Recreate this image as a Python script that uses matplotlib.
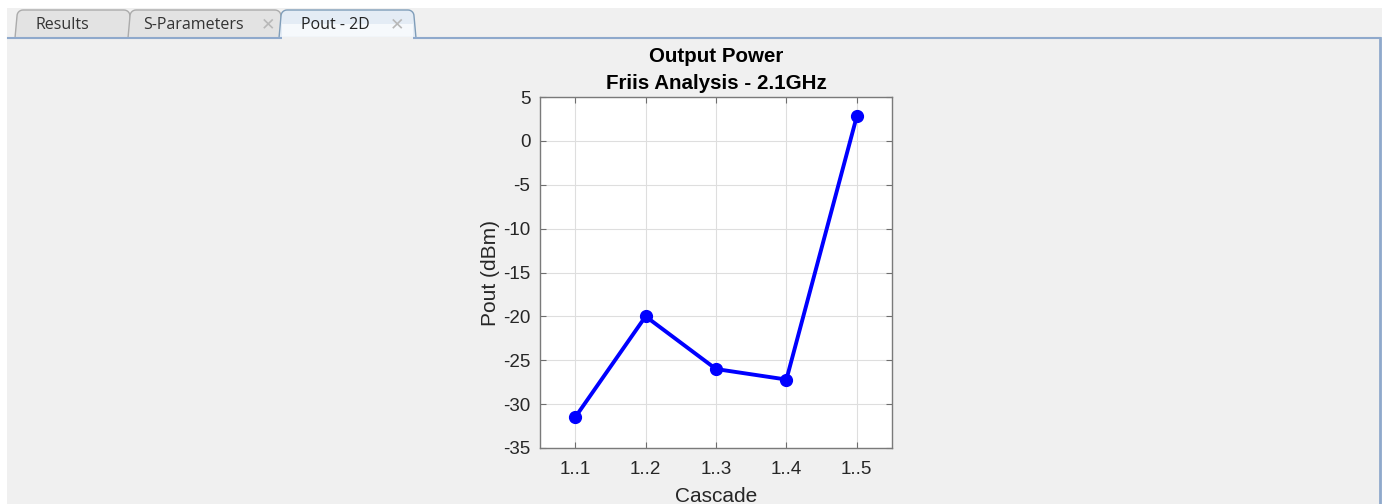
import numpy as np
import matplotlib
matplotlib.use("Agg")
import matplotlib.pyplot as plt
from matplotlib.patches import Polygon, Rectangle

plt.rcParams["axes.unicode_minus"] = False

# cascade stages and output power (dBm)
stages = [1, 2, 3, 4, 5]
stage_labels = ["1..1", "1..2", "1..3", "1..4", "1..5"]
pout_dbm = [-31.5, -20.0, -26.0, -27.2, 2.8]

tab_names = ["Results", "S-Parameters", "Pout - 2D"]

W, H = 1382, 504
fig = plt.figure(figsize=(W / 100, H / 100), dpi=100)
fig.patch.set_facecolor("white")

# window chrome drawn in pixel coordinates
bg = fig.add_axes([0, 0, 1, 1], zorder=0)
bg.set_xlim(0, W)
bg.set_ylim(H, 0)
bg.axis("off")

bg.add_patch(Rectangle((7, 8), W - 7, H - 8, facecolor="#f0f0f0", edgecolor="none"))


def tab_shape(x0, x1, y0, y1, r=6):
    # outline of a tab with rounded top corners
    t = np.linspace(0, np.pi / 2, 8)
    left = [(x0 + r - r * np.cos(a), y0 + r - r * np.sin(a)) for a in t]
    right = [(x1 - r + r * np.sin(a), y0 + r - r * np.cos(a)) for a in t]
    return [(x0 - 2, y1)] + left + right + [(x1 + 2, y1)]


# panel border
bg.plot([8, 1380], [38, 38], color="#8fa9cc", lw=1.5)
bg.plot([1380, 1380], [38, H], color="#8fa9cc", lw=2)

tabs = [(17, 130), (130, 281), (281, 414)]
for i, (x0, x1) in enumerate(tabs):
    active = i == len(tabs) - 1
    face = "#e4ecf5" if active else "#e3e3e3"
    edge = "#7f9db9" if active else "#ababab"
    bg.add_patch(Polygon(tab_shape(x0, x1, 10, 38), closed=False,
                         facecolor=face, edgecolor=edge, lw=1.0))
    if active:
        # lighter lower half of the selected tab
        bg.add_patch(Rectangle((x0 + 1, 24), x1 - x0 - 2, 14, facecolor="#f6f9fc",
                               edgecolor="none"))
        bg.add_patch(Rectangle((x0 + 1, 36.5), x1 - x0 - 2, 3, facecolor="#f0f0f0",
                               edgecolor="none", zorder=3))

tab_font = dict(ha="center", va="center", fontsize=11.5, family="Open Sans")
bg.text(62, 25, tab_names[0], color="#333333", **tab_font)
bg.text(193, 25, tab_names[1], color="#333333", **tab_font)
bg.text(335, 25, tab_names[2], color="#222222", **tab_font)
for cx in (268, 397):
    bg.text(cx, 24, "\u2715", ha="center", va="center", fontsize=12.5,
            family="DejaVu Sans", color="#b8b8b8", fontweight="bold")

# plot
ax = fig.add_axes([540 / W, 1 - 448 / H, 352 / W, 351 / H], zorder=2)
ax.set_facecolor("white")
ax.plot(stages, pout_dbm, color="#0000ff", lw=2.8, marker="o", markersize=8.5)

ax.set_xlim(0.5, 5.5)
ax.set_ylim(-35, 5)
ax.set_xticks(stages)
ax.set_xticklabels(stage_labels)
ax.set_yticks(np.arange(-35, 6, 5))
ax.grid(True, color="#dedede", lw=0.8)
ax.set_axisbelow(True)
ax.tick_params(direction="in", length=4, top=True, right=True, colors="#6e6e6e",
               labelcolor="#262626", labelsize=13.5)
ax.tick_params(axis="x", pad=9)
ax.tick_params(axis="y", pad=7)
for s in ax.spines.values():
    s.set_color("#7a7a7a")
    s.set_linewidth(1.0)

font = "Liberation Sans"
for lbl in ax.get_xticklabels() + ax.get_yticklabels():
    lbl.set_family(font)

ax.set_title("Output Power\nFriis Analysis - 2.1GHz", fontsize=14.8, fontweight="bold",
             family=font, color="black", pad=6, linespacing=1.5)
ax.set_ylabel("Pout (dBm)", fontsize=15, family=font, color="#262626", labelpad=2)
ax.set_xlabel("Cascade", fontsize=15, family=font, color="#262626", labelpad=7)

fig.savefig("out.png", dpi=100, facecolor=fig.get_facecolor())
